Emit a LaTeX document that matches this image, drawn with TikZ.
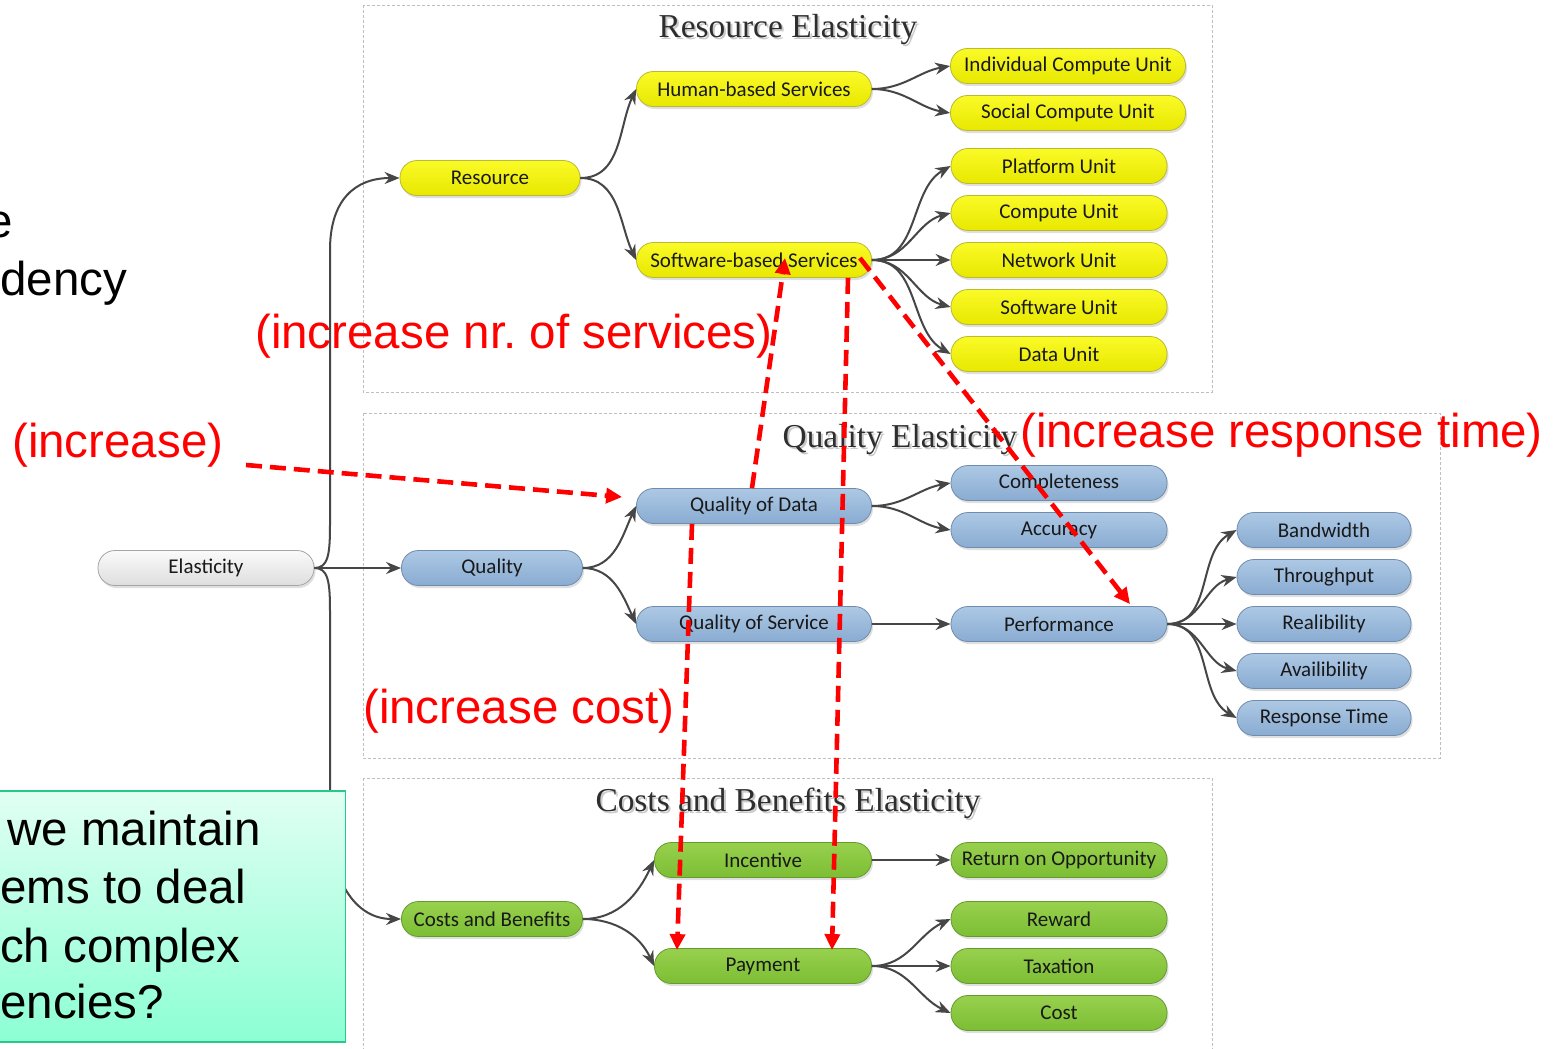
\documentclass[tikz,border=0pt]{standalone}
\usepackage{fontspec}
\newfontfamily\pillfont{Carlito}
\newfontfamily\notefont{Liberation Sans}
\newfontfamily\titlefont{Liberation Serif}
\usetikzlibrary{arrows.meta,shadows}

\definecolor{ylTop}{RGB}{250,250,40}
\definecolor{ylBot}{RGB}{232,232,0}
\definecolor{ylLine}{RGB}{185,185,50}
\definecolor{buTop}{RGB}{172,200,228}
\definecolor{buBot}{RGB}{138,172,210}
\definecolor{buLine}{RGB}{112,140,172}
\definecolor{gnTop}{RGB}{152,208,78}
\definecolor{gnBot}{RGB}{124,190,52}
\definecolor{gnLine}{RGB}{100,155,45}
\definecolor{gyTop}{RGB}{250,250,250}
\definecolor{gyBot}{RGB}{222,222,222}
\definecolor{gyLine}{RGB}{165,165,165}
\definecolor{linkgray}{RGB}{70,70,70}
\definecolor{qTop}{RGB}{225,255,243}
\definecolor{qBot}{RGB}{140,255,212}
\definecolor{qLine}{RGB}{40,200,140}

\tikzset{
  pill/.style={rounded corners=17pt, minimum height=35pt, inner sep=0pt,
    text=black!90, font=\pillfont\fontsize{21}{24}\selectfont, line width=0.8pt,
    drop shadow={shadow xshift=1.5pt, shadow yshift=-2.5pt, opacity=0.25}},
  yl/.style={pill, draw=ylLine, top color=ylTop, bottom color=ylBot},
  bu/.style={pill, draw=buLine, top color=buTop, bottom color=buBot},
  gn/.style={pill, draw=gnLine, top color=gnTop, bottom color=gnBot},
  gy/.style={pill, draw=gyLine, top color=gyTop, bottom color=gyBot},
  conn/.style={draw=linkgray, line width=2pt, -{Stealth[length=15pt,width=12pt]}},
  redarrow/.style={draw=red, line width=4.6pt, dash pattern=on 16pt off 8pt,
    -{Triangle[length=16pt,width=15pt]}},
  redlabel/.style={text=red, font=\notefont\fontsize{47.5}{57}\selectfont,
    inner sep=0pt, anchor=west},
  bigtext/.style={text=black, font=\notefont\fontsize{47.5}{57}\selectfont,
    inner sep=0pt, anchor=base west},
  grp/.style={draw=gray!50, line width=0.8pt, dash pattern=on 3pt off 2pt},
  grptitle/.style={font=\titlefont\fontsize{33.4}{40}\selectfont, text=black!82, inner sep=0pt},
  grpshadow/.style={grptitle, text=black!35, opacity=0.6},
}

\begin{document}
\begin{tikzpicture}[x=1pt,y=1pt]
\clip (0,0) rectangle (1559,-1049);
\fill[white] (0,0) rectangle (1559,-1049);

% group frames
\draw[grp] (363,-5) rectangle (1212,-392);
\draw[grp] (363,-413) rectangle (1440,-758);
\draw[grp] (363,-778) rectangle (1212,-1070);

% group titles with a soft shadow
\node[grpshadow] (tRs) at (790,-32) {Resource Elasticity};
\node[grptitle] (tR) at (788,-30) {Resource Elasticity};
\node[grpshadow] (tQs) at (902,-442) {Quality Elasticity};
\node[grptitle] (tQ) at (900,-440) {Quality Elasticity};
\node[grpshadow] (tCs) at (790,-805) {Costs and Benefits Elasticity};
\node[grptitle] (tC) at (788,-803) {Costs and Benefits Elasticity};

% nodes
\node[gy, minimum width=216pt] (E) at (206,-568) {Elasticity};

\node[yl, minimum width=180pt] (R) at (490,-178) {Resource};
\node[yl, minimum width=235pt] (H) at (754,-89) {Human-based Services};
\node[yl, minimum width=235pt] (SW) at (754,-260) {Software-based Services};
\node[yl, minimum width=235pt] (ICU) at (1068,-66) {Individual Compute Unit};
\node[yl, minimum width=235pt] (SCU) at (1068,-113) {Social Compute Unit};
\node[yl, minimum width=216pt] (PU) at (1059,-166) {Platform Unit};
\node[yl, minimum width=216pt] (CU) at (1059,-213) {Compute Unit};
\node[yl, minimum width=216pt] (NU) at (1059,-260) {Network Unit};
\node[yl, minimum width=216pt] (SU) at (1059,-307) {Software Unit};
\node[yl, minimum width=216pt] (DU) at (1059,-354) {Data Unit};

\node[bu, minimum width=181pt] (Q) at (492,-568) {Quality};
\node[bu, minimum width=235pt] (QD) at (754,-506) {Quality of Data};
\node[bu, minimum width=235pt] (QS) at (754,-624) {Quality of Service};
\node[bu, minimum width=216pt] (CP) at (1059,-483) {Completeness};
\node[bu, minimum width=216pt] (AC) at (1059,-530) {Accuracy};
\node[bu, minimum width=216pt] (PF) at (1059,-624) {Performance};
\node[bu, minimum width=174pt] (BW) at (1324,-530) {Bandwidth};
\node[bu, minimum width=174pt] (TP) at (1324,-577) {Throughput};
\node[bu, minimum width=174pt] (RL) at (1324,-624) {Realibility};
\node[bu, minimum width=174pt] (AV) at (1324,-671) {Availibility};
\node[bu, minimum width=174pt] (RT) at (1324,-718) {Response Time};

\node[gn, minimum width=181pt] (CB) at (492,-919) {Costs and Benefits};
\node[gn, minimum width=217pt] (IN) at (763,-860) {Incentive};
\node[gn, minimum width=217pt] (PY) at (763,-966) {Payment};
\node[gn, minimum width=216pt] (RO) at (1059,-860) {Return on Opportunity};
\node[gn, minimum width=216pt] (RW) at (1059,-919) {Reward};
\node[gn, minimum width=216pt] (TX) at (1059,-966) {Taxation};
\node[gn, minimum width=216pt] (CO) at (1059,-1013) {Cost};

% tree connectors
\draw[conn] (E.east) .. controls (328,-568) and (330,-555) .. (330,-525)
  -- (330,-250) .. controls (330,-200) and (355,-178) .. (R.west);
\draw[conn] (E.east) -- (Q.west);
\draw[conn] (E.east) .. controls (328,-568) and (330,-581) .. (330,-611)
  -- (330,-820) .. controls (330,-880) and (355,-919) .. (CB.west);

\draw[conn] (R.east) to[out=0,in=-115] (H.west);
\draw[conn] (R.east) to[out=0,in=115] (SW.west);
\draw[conn] (H.east) to[out=0,in=-170] (ICU.west);
\draw[conn] (H.east) to[out=0,in=170] (SCU.west);
\draw[conn] (SW.east) to[out=0,in=-150] (PU.west);
\draw[conn] (SW.east) to[out=0,in=-165] (CU.west);
\draw[conn] (SW.east) -- (NU.west);
\draw[conn] (SW.east) to[out=0,in=165] (SU.west);
\draw[conn] (SW.east) to[out=0,in=150] (DU.west);

\draw[conn] (Q.east) to[out=0,in=-115] (QD.west);
\draw[conn] (Q.east) to[out=0,in=115] (QS.west);
\draw[conn] (QD.east) to[out=0,in=-170] (CP.west);
\draw[conn] (QD.east) to[out=0,in=170] (AC.west);
\draw[conn] (QS.east) -- (PF.west);
\draw[conn] (PF.east) to[out=0,in=-150] (BW.west);
\draw[conn] (PF.east) to[out=0,in=-165] (TP.west);
\draw[conn] (PF.east) -- (RL.west);
\draw[conn] (PF.east) to[out=0,in=165] (AV.west);
\draw[conn] (PF.east) to[out=0,in=150] (RT.west);

\draw[conn] (CB.east) to[out=0,in=-115] (IN.west);
\draw[conn] (CB.east) to[out=0,in=115] (PY.west);
\draw[conn] (IN.east) -- (RO.west);
\draw[conn] (PY.east) to[out=0,in=-155] (RW.west);
\draw[conn] (PY.east) -- (TX.west);
\draw[conn] (PY.east) to[out=0,in=155] (CO.west);

% question box
\node[draw=qLine, line width=1.5pt, top color=qTop, bottom color=qBot,
  minimum width=360pt, minimum height=251pt, inner sep=0pt, anchor=north east]
  (QB) at (346,-790) {};
\node[bigtext] (q1) at (7,-845) {we maintain};
\node[bigtext] (q2) at (0,-903) {ems to deal};
\node[bigtext] (q3) at (0,-962) {ch complex};
\node[bigtext] (q4) at (0,-1018) {encies?};

% upper left text
\node[bigtext] (s1) at (-14,-237) {e};
\node[bigtext] (s2) at (0,-295) {dency};

% dependency arrows
\coordinate (incA) at (246,-465);
\draw[redarrow] (incA) -- ([xshift=-14pt,yshift=9pt]QD.west);
\draw[redarrow] ([xshift=-2pt]QD.north) -- ([xshift=31pt,yshift=2pt]SW.center);
\draw[redarrow] ([xshift=94pt]SW.south) -- ([xshift=69pt,yshift=-2pt]PY.north);
\draw[redarrow] ([xshift=-62pt]QD.south) -- ([xshift=-86pt,yshift=-2pt]PY.north);
\draw[redarrow] ([xshift=-12pt,yshift=2pt]SW.east) -- ([xshift=71pt,yshift=2pt]PF.north);

% dependency labels
\node[redlabel] (l1) at (255,-336) {(increase nr.\ of services)};
\node[redlabel] (l2) at (1020,-435) {(increase response time)};
\node[redlabel] (l3) at (363,-711) {(increase cost)};
\node[redlabel] (l4) at (12,-445) {(increase)};
\end{tikzpicture}
\end{document}
